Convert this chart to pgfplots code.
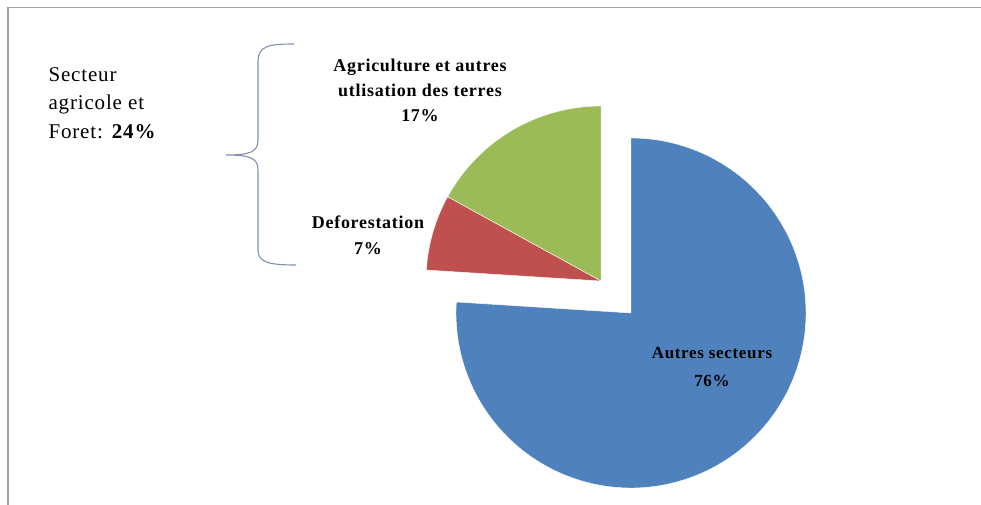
\documentclass[border=0pt]{standalone}
\usepackage{pgfplots}
\usepackage{pgfplotstable}
\pgfplotsset{compat=1.18}
\usepackage{fontspec}
\setmainfont{Liberation Serif}
\newfontfamily\lblfont[LetterSpace=4]{Liberation Serif}
\definecolor{cblue}{RGB}{79,129,189}
\definecolor{cred}{RGB}{192,80,77}
\definecolor{cgreen}{RGB}{155,187,89}
\definecolor{brace}{RGB}{125,145,170}
\definecolor{frame}{RGB}{160,160,160}
\pgfplotstableread{
label value
Autres 76
Deforestation 7
Agriculture 17
}\piedata
\pgfplotstablegetelem{0}{value}\of\piedata \let\vA\pgfplotsretval
\pgfplotstablegetelem{1}{value}\of\piedata \let\vB\pgfplotsretval
\pgfplotstablegetelem{2}{value}\of\piedata \let\vC\pgfplotsretval
% angles: start at 90 deg, clockwise
\pgfmathsetmacro{\aAend}{90}
\pgfmathsetmacro{\aAstart}{90-3.6*\vA}
\pgfmathsetmacro{\aBend}{\aAstart+360}
\pgfmathsetmacro{\aBstart}{\aBend-3.6*\vB}
\pgfmathsetmacro{\aCend}{\aBstart}
\pgfmathsetmacro{\aCstart}{\aCend-3.6*\vC}
\begin{document}
\begin{tikzpicture}
\begin{axis}[
  scale only axis, width=981pt, height=504pt,
  xmin=0, xmax=981, ymin=0, ymax=504, y dir=reverse,
  hide axis, clip=true,
]
% frame (only top and left visible)
\draw[frame, line width=1.5pt] (axis cs:8,520) -- (axis cs:8,7.5) -- (axis cs:1000,7.5);
% pie: blue slice exploded
\def\r{175}
\addplot[fill=cblue, draw=white, line width=0.4pt, domain=\aAstart:\aAend, samples=160, variable=\t]
  ({631+\r*cos(\t)},{313-\r*sin(\t)}) -- (axis cs:631,313) -- cycle;
\addplot[fill=cred, draw=white, line width=0.4pt, domain=\aBstart:\aBend, samples=40, variable=\t]
  ({601+\r*cos(\t)},{281-\r*sin(\t)}) -- (axis cs:601,281) -- cycle;
\addplot[fill=cgreen, draw=white, line width=0.4pt, domain=\aCstart:\aCend, samples=60, variable=\t]
  ({601+\r*cos(\t)},{281-\r*sin(\t)}) -- (axis cs:601,281) -- cycle;
% labels
\node[align=center, font=\lblfont\fontsize{18}{25}\selectfont\bfseries] at (axis cs:420,90)
  {Agriculture et autres\\utlisation des terres\\17\%};
\node[align=center, font=\lblfont\fontsize{18}{26}\selectfont\bfseries] at (axis cs:368,235)
  {Deforestation\\7\%};
\node[align=center, font=\lblfont\fontsize{17}{28}\selectfont\bfseries] at (axis cs:712,367)
  {Autres secteurs\\76\%};
\node[align=left, anchor=west, font=\lblfont\fontsize{21}{28.5}\selectfont] at (axis cs:45,103)
  {Secteur\\agricole et\\Foret: \textbf{24\%}};
% brace
\draw[brace, line width=1.1pt]
  (axis cs:294,44) .. controls (axis cs:268,44) and (axis cs:258,46) .. (axis cs:258,62)
  -- (axis cs:258,140) .. controls (axis cs:258,152) and (axis cs:250,155) .. (axis cs:226,155)
  .. controls (axis cs:250,155) and (axis cs:258,158) .. (axis cs:258,170)
  -- (axis cs:258,250) .. controls (axis cs:258,262) and (axis cs:268,265) .. (axis cs:296,265);
\end{axis}
\pgfresetboundingbox
\path (current axis.south west) rectangle (current axis.north east);
\end{tikzpicture}
\end{document}
